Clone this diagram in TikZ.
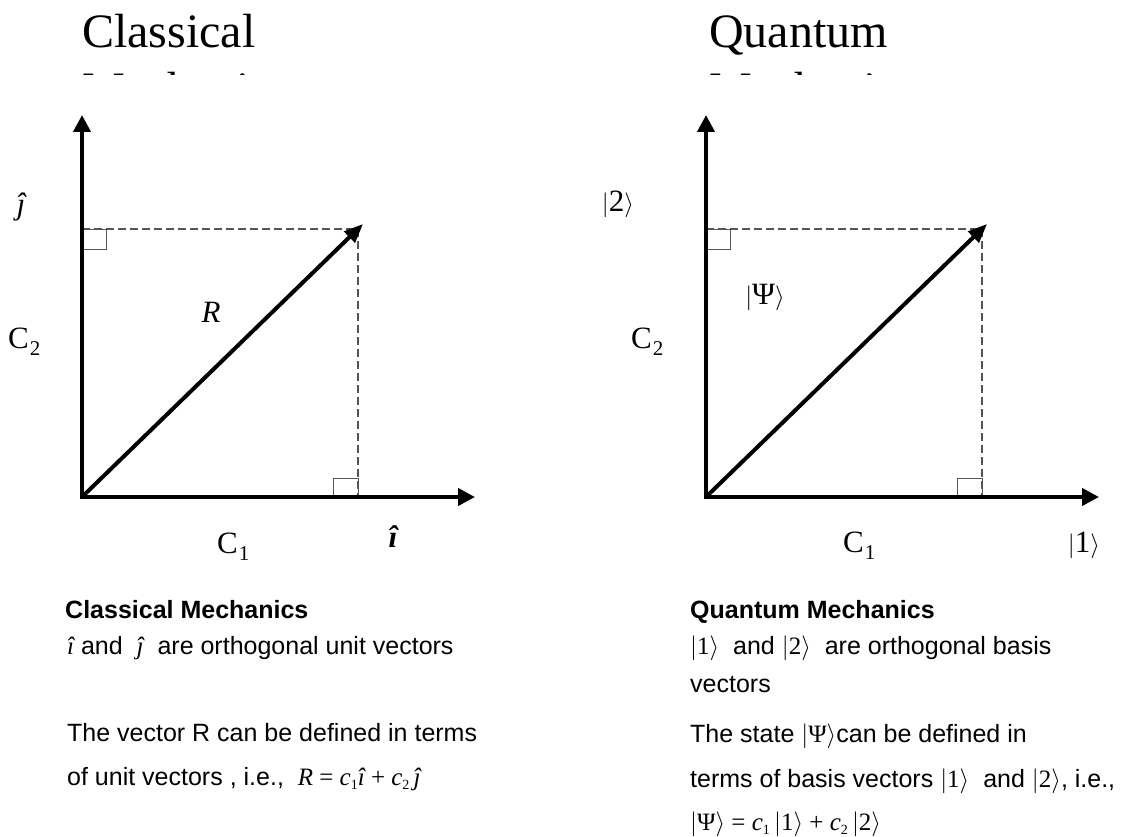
\documentclass[tikz,border=0pt]{standalone}
\usepackage{fontspec}
\setmainfont{Liberation Serif}
\setsansfont{Liberation Sans}
\usetikzlibrary{arrows.meta}

\definecolor{dashgray}{RGB}{85,85,85}
\newcommand{\mi}[1]{{\rmfamily\itshape #1}}
\newcommand{\sbv}[1]{\raisebox{-4pt}{\fontsize{14}{14}\selectfont\rmfamily #1}}
\newcommand{\ketv}[1]{{\rmfamily$\big|$#1$\big\rangle$}}
\newcommand{\Clab}[1]{C\kern1pt\raisebox{-7pt}{\fontsize{21}{21}\selectfont #1}}

\tikzset{
  axis/.style={line width=4pt, {Triangle[length=17pt,width=17pt]}-{Triangle[length=17pt,width=17pt]}},
  vec/.style={line width=4pt, -{Triangle[length=19pt,width=15pt]}},
  proj/.style={draw=dashgray, line width=1.2pt, dash pattern=on 8pt off 4pt},
  rbox/.style={draw=dashgray, line width=1pt},
  lbl/.style={font=\fontsize{31}{36}\selectfont, inner sep=0pt},
  ttl/.style={font=\fontsize{48}{55}\selectfont, inner sep=0pt, anchor=base west},
  txt/.style={font=\sffamily\fontsize{25}{30}\selectfont, inner sep=0pt, anchor=base west}
}

\begin{document}
\begin{tikzpicture}[x=1pt,y=-1pt]
\useasboundingbox (0,0) rectangle (1126,837);

\begin{scope}
\clip (0,0) rectangle (1126,74.5);
\node[ttl] (t1) at (82,48) {Classical};
\node[ttl] (t1b) at (82,106) {Mechanics};
\node[ttl] (t2) at (709,48) {Quantum};
\node[ttl] (t2b) at (709,106) {Mechanics};
\end{scope}

% classical
\coordinate (o1) at (82,497);
\coordinate (x1) at (475,497);
\coordinate (y1) at (82,115);
\coordinate (r1) at (363,224);
\coordinate (c1) at (358,229);
\coordinate (a1) at (82,229);
\coordinate (b1) at (358,497);

\draw[proj] (a1) -- (c1) -- (b1);
\draw[rbox] (a1) rectangle ++(24,20);
\draw[rbox] (b1) rectangle ++(-25,-19);
\draw[axis] (y1) -- (o1) -- (x1);
\draw[vec] (o1) -- (r1);

\node[lbl] (jh) at (21,207) {\mi{ĵ}};
\node[lbl,anchor=base west] (cc2) at (8,348) {\Clab{2}};
\node[lbl,anchor=base] (rr) at (211,322) {\mi{R}};
\node[lbl,anchor=base west] (cc1) at (217,553) {\Clab{1}};
\node[lbl] (ih) at (393,537) {\bfseries\itshape î};

% quantum
\coordinate (o2) at (706,497);
\coordinate (x2) at (1099,497);
\coordinate (y2) at (706,115);
\coordinate (r2) at (987,224);
\coordinate (c2) at (982,229);
\coordinate (a2) at (706,229);
\coordinate (b2) at (982,497);

\draw[proj] (a2) -- (c2) -- (b2);
\draw[rbox] (a2) rectangle ++(24,20);
\draw[rbox] (b2) rectangle ++(-25,-19);
\draw[axis] (y2) -- (o2) -- (x2);
\draw[vec] (o2) -- (r2);

\node[lbl] (k2) at (618,204) {\ketv{2}};
\node[lbl] (psi) at (765,297) {\ketv{Ψ}};
\node[lbl,anchor=base west] (qc2) at (631,348) {\Clab{2}};
\node[lbl,anchor=base west] (qc1) at (843,552) {\Clab{1}};
\node[lbl] (k1) at (1084,545) {\ketv{1}};

% text below
\node[txt] (h1) at (65,618) {\bfseries Classical Mechanics};
\node[txt] (l1a) at (67,654) {\mi{î} and~ \mi{ĵ} ~are orthogonal unit vectors};
\node[txt] (l1b) at (67,741) {The vector R can be defined in terms};
\node[txt] (l1c) at (67,785) {of unit vectors , i.e.,~ {\rmfamily\mi{R} = \mi{c}\sbv{1}\mi{î} + \mi{c}\sbv{2}\,\mi{ĵ}}};

\node[txt] (h2) at (690,618) {\bfseries Quantum Mechanics};
\node[txt] (l2a) at (690,654) {\ketv{1}~ and \ketv{2}~ are orthogonal basis};
\node[txt] (l2b) at (690,692) {vectors};
\node[txt] (l2c) at (690,742) {The state \ketv{Ψ}can be defined in};
\node[txt] (l2d) at (690,787) {terms of basis vectors \ketv{1}~ and \ketv{2}, i.e.,};
\node[txt] (l2e) at (690,830) {{\rmfamily\ketv{Ψ} = \mi{c}\sbv{1}\,\ketv{1} + \mi{c}\sbv{2}\,\ketv{2}}};
\end{tikzpicture}
\end{document}
